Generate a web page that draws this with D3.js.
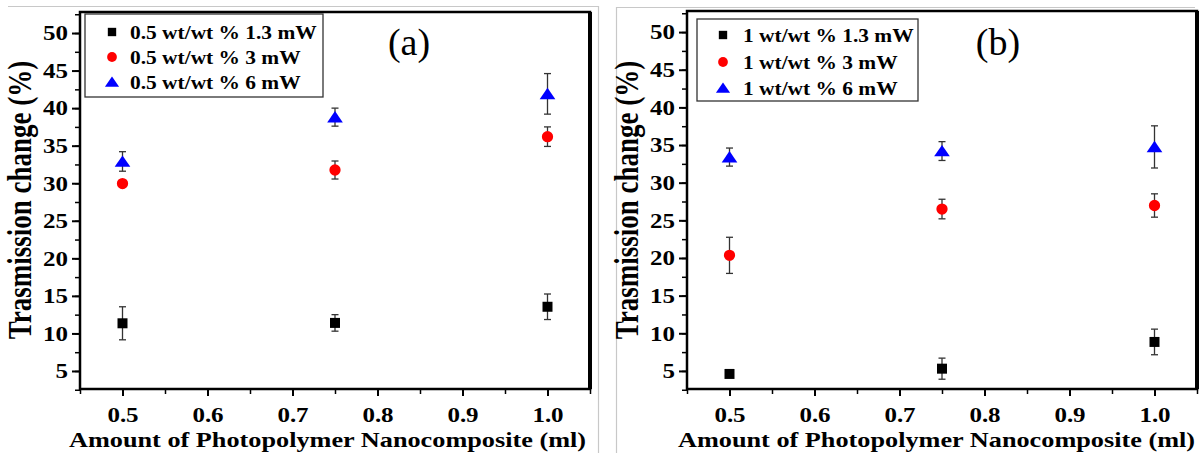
<!DOCTYPE html>
<html>
<head>
<meta charset="utf-8">
<script src="https://cdn.jsdelivr.net/npm/d3@7"></script>
<style>
  body { margin: 0; background: #fff; }
  text { font-family: "Liberation Serif", "Times New Roman", serif; }
</style>
</head>
<body>
<div id="chart"></div>
<script>
// ---------------- data ----------------
var xValues = [0.5, 0.75, 1.0];
var xTicks = [0.5, 0.6, 0.7, 0.8, 0.9, 1.0];
var yTicks = [5, 10, 15, 20, 25, 30, 35, 40, 45, 50];

// panel (a): 0.5 wt/wt %
var legendA = ["0.5 wt/wt % 1.3 mW", "0.5 wt/wt % 3 mW", "0.5 wt/wt % 6 mW"];
var a13 = [11.35, 11.4, 13.55],  a13Err = [2.2, 1.1, 1.7];
var a3  = [29.95, 31.76, 36.2],  a3Err  = [0.4, 1.2, 1.3];
var a6  = [32.9, 38.8, 41.9],    a6Err  = [1.3, 1.2, 2.7];

// panel (b): 1 wt/wt %
var legendB = ["1 wt/wt % 1.3 mW", "1 wt/wt % 3 mW", "1 wt/wt % 6 mW"];
var b13 = [4.6, 5.3, 8.85],      b13Err = [0.3, 1.4, 1.7];
var b3  = [20.35, 26.5, 26.97],  b3Err  = [2.4, 1.3, 1.55];
var b6  = [33.4, 34.2, 34.75],   b6Err  = [1.2, 1.25, 2.8];

var seriesColors = ["#000000", "#ff0000", "#0000ff"];

// the source image is stretched sideways, so axis text is too
var SX = 1.25;

// wide Origin-like triangle
var wideTriangle = {
  draw: function(ctx, size) {
    var w = Math.sqrt(size);
    ctx.moveTo(0, -w * 0.48);
    ctx.lineTo(w * 0.62, w * 0.42);
    ctx.lineTo(-w * 0.62, w * 0.42);
    ctx.closePath();
  }
};
var symbolTypes = [d3.symbolSquare, d3.symbolCircle, wideTriangle];
var plotSizes = [100, 100, 160];
var legendSizes = [70, 75, 130];

var svg = d3.select("#chart").append("svg")
    .attr("width", 1200)
    .attr("height", 453);

// light grey frames of the two pasted images
var frame = svg.append("g").attr("stroke", "#c8c8c8").attr("stroke-width", 1.2).attr("fill", "none");
frame.append("path").attr("d", "M8,6.5H598.5V453");
frame.append("path").attr("d", "M616.5,453V7.5H1195");

function drawPanel(p) {
  var x = d3.scaleLinear().domain([0.45, 1.05]).range([p.x0, p.x1]);
  var y = d3.scaleLinear().domain([2.6, 52.8]).range([p.y1, p.y0]);
  var g = svg.append("g");

  // minor ticks
  g.append("g")
    .attr("transform", "translate(" + p.x0 + ",0)")
    .call(d3.axisLeft(y).tickValues(d3.range(2.5, 53, 2.5)).tickSize(5).tickFormat(""))
    .call(function(a) { a.select(".domain").remove(); })
    .selectAll("line").attr("stroke-width", 1.5);
  g.append("g")
    .attr("transform", "translate(0," + p.y1 + ")")
    .call(d3.axisBottom(x).tickValues(d3.range(0.45, 1.06, 0.1)).tickSize(5).tickFormat(""))
    .call(function(a) { a.select(".domain").remove(); })
    .selectAll("line").attr("stroke-width", 1.5);

  // major ticks + labels
  var yAx = g.append("g")
    .attr("transform", "translate(" + p.x0 + ",0)")
    .call(d3.axisLeft(y).tickValues(yTicks).tickSize(8))
    .call(function(a) { a.select(".domain").remove(); });
  yAx.selectAll("line").attr("stroke-width", 2);
  yAx.selectAll("text")
    .attr("x", -12 / SX)
    .attr("dy", "0.34em")
    .attr("transform", "scale(" + SX + ",1)")
    .attr("fill", "#000")
    .style("font-size", "20px")
    .style("font-weight", "bold");

  var xAx = g.append("g")
    .attr("transform", "translate(0," + p.y1 + ")")
    .call(d3.axisBottom(x).tickValues(xTicks).tickSize(7).tickFormat(d3.format(".1f")))
    .call(function(a) { a.select(".domain").remove(); });
  xAx.selectAll("line").attr("stroke-width", 2);
  xAx.selectAll("text")
    .attr("y", 33).attr("dy", 0)
    .attr("transform", "scale(" + SX + ",1)")
    .attr("fill", "#000")
    .style("font-size", "20px")
    .style("font-weight", "bold");

  // plot frame
  g.append("rect")
    .attr("x", p.x0).attr("y", p.y0)
    .attr("width", p.x1 - p.x0).attr("height", p.y1 - p.y0)
    .attr("fill", "none").attr("stroke", "#000").attr("stroke-width", 2.5);
  g.append("line")
    .attr("x1", p.x1).attr("x2", p.x1).attr("y1", p.y0).attr("y2", p.y1)
    .attr("stroke", "#000").attr("stroke-width", 4);

  // axis titles
  g.append("text")
    .attr("transform", "translate(" + p.xTitleX + ",447) scale(" + SX + ",1)")
    .attr("text-anchor", "middle")
    .style("font-size", "21px").style("font-weight", "bold")
    .text("Amount of Photopolymer Nanocomposite (ml)");
  g.append("text")
    .attr("transform", "translate(" + p.yTitleX + ",200) scale(" + SX + ",1) rotate(-90)")
    .attr("text-anchor", "middle")
    .style("font-size", "27px").style("font-weight", "bold")
    .text("Trasmission change (%)");

  // data: error bars then markers
  p.series.forEach(function(s, si) {
    var pts = xValues.map(function(xv, i) { return { x: xv, v: s.values[i], e: s.errors[i] }; });
    var eb = g.append("g").attr("stroke", "#333").attr("stroke-width", 1.3);
    eb.selectAll(".stem").data(pts).enter().append("line")
      .attr("x1", function(d) { return x(d.x); }).attr("x2", function(d) { return x(d.x); })
      .attr("y1", function(d) { return y(d.v + d.e); }).attr("y2", function(d) { return y(d.v - d.e); });
    [1, -1].forEach(function(sg) {
      eb.selectAll(".cap" + sg).data(pts).enter().append("line")
        .attr("x1", function(d) { return x(d.x) - 3.5; }).attr("x2", function(d) { return x(d.x) + 3.5; })
        .attr("y1", function(d) { return y(d.v + sg * d.e); }).attr("y2", function(d) { return y(d.v + sg * d.e); });
    });
    g.append("g").selectAll("path").data(pts).enter().append("path")
      .attr("transform", function(d) { return "translate(" + x(d.x) + "," + y(d.v) + ")"; })
      .attr("d", d3.symbol().type(symbolTypes[si]).size(plotSizes[si]))
      .attr("fill", seriesColors[si]);
  });

  // legend
  var lg = g.append("g");
  lg.append("rect")
    .attr("x", p.legend.x).attr("y", p.legend.y)
    .attr("width", p.legend.w).attr("height", p.legend.h)
    .attr("fill", "#fff").attr("stroke", "#333").attr("stroke-width", 1.3);
  p.labels.forEach(function(lab, i) {
    var ry = p.legend.rows[i];
    lg.append("path")
      .attr("transform", "translate(" + (p.legend.x + p.legend.mx) + "," + ry + ")")
      .attr("d", d3.symbol().type(symbolTypes[i]).size(legendSizes[i])())
      .attr("fill", seriesColors[i]);
    lg.append("text")
      .attr("transform", "translate(" + (p.legend.x + p.legend.tx) + "," + (ry + 6.5) + ") scale(1.19,1)")
      .style("font-size", "18px").style("font-weight", "bold")
      .text(lab);
  });

  // panel letter
  g.append("text")
    .attr("x", p.letterX).attr("y", 55)
    .attr("text-anchor", "middle")
    .style("font-size", "38px")
    .text(p.letter);
}

drawPanel({
  x0: 80, x1: 590, y0: 12, y1: 389,
  xTitleX: 327.5, yTitleX: 31,
  labels: legendA,
  series: [{ values: a13, errors: a13Err }, { values: a3, errors: a3Err }, { values: a6, errors: a6Err }],
  legend: { x: 85, y: 14, w: 238, h: 83, rows: [32, 57, 82], mx: 27, tx: 45 },
  letter: "(a)", letterX: 409
});

drawPanel({
  x0: 687, x1: 1197, y0: 11, y1: 389,
  xTitleX: 936.5, yTitleX: 638,
  labels: legendB,
  series: [{ values: b13, errors: b13Err }, { values: b3, errors: b3Err }, { values: b6, errors: b6Err }],
  legend: { x: 697, y: 19, w: 221, h: 82, rows: [35, 62, 88], mx: 26, tx: 46 },
  letter: "(b)", letterX: 998
});
</script>
</body>
</html>
